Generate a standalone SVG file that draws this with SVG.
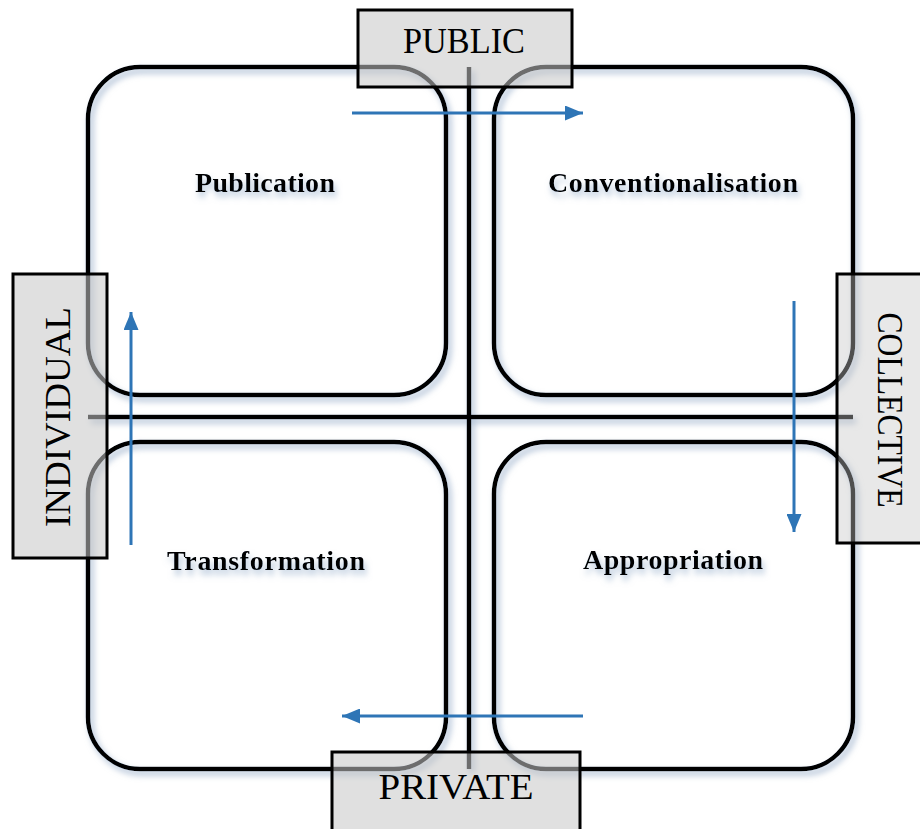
<svg xmlns="http://www.w3.org/2000/svg" width="920" height="829" viewBox="0 0 920 829">
<style>
.quad{fill:none;stroke:#000;stroke-width:4.5}
.cross{stroke:#000;stroke-width:4.5}
.lbox{fill:#c6c6c6;fill-opacity:0.55;stroke:#000;stroke-width:3}
.ltext{font-family:"Liberation Serif","Times New Roman",serif;font-size:35px;fill:#000}
.qtext{font-family:"Liberation Serif","Times New Roman",serif;font-size:28px;font-weight:bold;fill:#000}
.arrow{stroke:#2e75b6;stroke-width:3;fill:none}
</style>
<defs>
<filter id="sh" x="-10%" y="-10%" width="120%" height="120%">
<feDropShadow dx="3" dy="4" stdDeviation="3" flood-color="#8ea6c4" flood-opacity="0.75"/>
</filter>
<filter id="tsh" x="-10%" y="-30%" width="120%" height="180%">
<feDropShadow dx="2" dy="5" stdDeviation="3" flood-color="#7f9cc0" flood-opacity="0.6"/>
</filter>
<marker id="ah" markerWidth="18" markerHeight="15" refX="18" refY="7.5" orient="auto" markerUnits="userSpaceOnUse">
<polygon points="0,0 18,7.5 0,15" fill="#2e75b6"/>
</marker>
</defs>
<g id="frame" filter="url(#sh)">
<line class="cross" x1="469" y1="67" x2="469" y2="769"/>
<line class="cross" x1="88" y1="417" x2="853" y2="417"/>
</g>
<g id="publication">
<rect class="quad" x="88" y="67" width="358" height="328" rx="52" ry="52" filter="url(#sh)"/>
<text class="qtext" x="265" y="192" text-anchor="middle" textLength="140" lengthAdjust="spacing" filter="url(#tsh)">Publication</text>
</g>
<g id="conventionalisation">
<rect class="quad" x="494" y="67" width="359" height="328" rx="52" ry="52" filter="url(#sh)"/>
<text class="qtext" x="673" y="192" text-anchor="middle" textLength="250" lengthAdjust="spacing" filter="url(#tsh)">Conventionalisation</text>
</g>
<g id="transformation">
<rect class="quad" x="88" y="442" width="358" height="327" rx="52" ry="52" filter="url(#sh)"/>
<text class="qtext" x="266" y="570" text-anchor="middle" textLength="198" lengthAdjust="spacing" filter="url(#tsh)">Transformation</text>
</g>
<g id="appropriation">
<rect class="quad" x="494" y="442" width="359" height="327" rx="52" ry="52" filter="url(#sh)"/>
<text class="qtext" x="673" y="569" text-anchor="middle" textLength="180" lengthAdjust="spacing" filter="url(#tsh)">Appropriation</text>
</g>
<g id="public">
<rect class="lbox" x="358" y="10" width="214" height="77"/>
<text class="ltext" x="464" y="53" text-anchor="middle" textLength="122" lengthAdjust="spacingAndGlyphs">PUBLIC</text>
</g>
<g id="individual">
<rect class="lbox" x="13" y="274" width="94" height="284"/>
<text class="ltext" transform="translate(70,417) rotate(-90)" x="0" y="0" text-anchor="middle" textLength="220" lengthAdjust="spacingAndGlyphs">INDIVIDUAL</text>
</g>
<g id="collective">
<rect class="lbox" x="837" y="274" width="95" height="269" style="fill-opacity:0.4"/>
<text class="ltext" transform="translate(878,410) rotate(90)" x="0" y="0" text-anchor="middle" textLength="195" lengthAdjust="spacingAndGlyphs">COLLECTIVE</text>
</g>
<g id="private">
<rect class="lbox" x="332" y="752" width="248" height="84"/>
<text class="ltext" x="456" y="799" text-anchor="middle" textLength="155" lengthAdjust="spacingAndGlyphs">PRIVATE</text>
</g>
<g id="connectors">
<line class="arrow" x1="352" y1="113" x2="583" y2="113" marker-end="url(#ah)"/>
<line class="arrow" x1="794" y1="301" x2="794" y2="532" marker-end="url(#ah)"/>
<line class="arrow" x1="583" y1="716" x2="342" y2="716" marker-end="url(#ah)"/>
<line class="arrow" x1="131" y1="545" x2="131" y2="312" marker-end="url(#ah)"/>
</g>
</svg>
